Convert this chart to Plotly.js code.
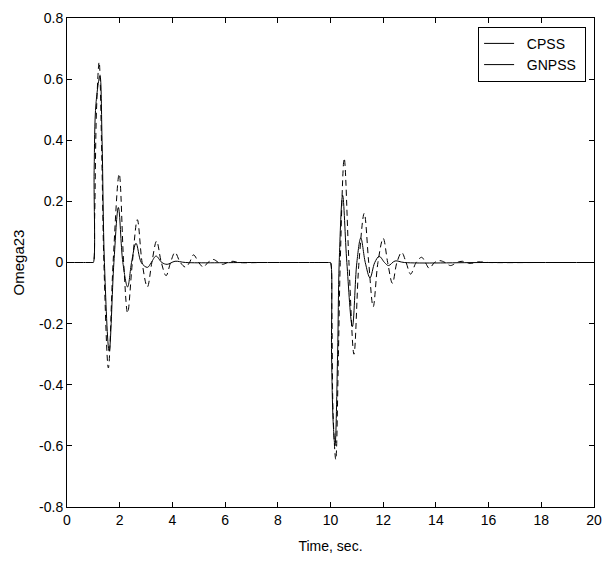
<!DOCTYPE html>
<html>
<head>
<meta charset="utf-8">
<script src="https://cdn.plot.ly/plotly-3.0.1.min.js"></script>
<style>html,body{margin:0;padding:0;background:#fff;}#chart{width:608px;height:561px;}</style>
</head>
<body>
<div id="chart"></div>
<script>
// CPSS (dashed)
const cpssTime  = [0, 0.5, 0.97, 1.0, 1.05, 1.12, 1.22, 1.32, 1.4, 1.57, 1.75, 1.98, 2.15, 2.3, 2.48, 2.67, 2.85, 3.05, 3.22, 3.40, 3.58, 3.76, 3.93, 4.1, 4.3, 4.5, 4.65, 4.8, 5.0, 5.17, 5.35, 5.55, 5.75, 5.9, 6.1, 6.3, 6.5, 7.5, 9.97, 10.0, 10.05, 10.1, 10.2, 10.3, 10.37, 10.52, 10.7, 10.89, 11.08, 11.28, 11.45, 11.62, 11.8, 12.0, 12.17, 12.35, 12.52, 12.7, 12.87, 13.04, 13.25, 13.46, 13.6, 13.75, 13.95, 14.15, 14.35, 14.55, 14.8, 15.0, 15.3, 15.6, 16.0, 18.0, 20.0];
const cpssValue = [0, 0, 0, 0, 0.15, 0.5, 0.656, 0.35, 0.0, -0.345, 0.0, 0.29, 0.0, -0.165, 0.0, 0.14, 0.0, -0.08, 0.0, 0.07, 0.0, -0.043, 0.0, 0.033, 0.0, -0.015, 0.0, 0.025, 0.0, -0.015, 0.0, 0.01, 0.0, -0.006, 0.0, 0.004, 0.0, 0, 0, 0, -0.15, -0.5, -0.645, -0.3, 0.0, 0.341, 0.0, -0.30, 0.0, 0.161, 0.0, -0.145, 0.0, 0.079, 0.0, -0.068, 0.0, 0.033, 0.0, -0.038, 0.0, 0.017, 0.0, -0.019, 0.0, 0.006, 0.0, -0.01, 0.0, 0.004, -0.003, 0.002, 0, 0, 0];

// GNPSS (solid)
const gnpssTime  = [0, 0.5, 0.97, 1.0, 1.03, 1.1, 1.25, 1.33, 1.42, 1.6, 1.78, 1.95, 2.12, 2.3, 2.45, 2.62, 2.82, 3.05, 3.2, 3.38, 3.6, 3.8, 4.1, 4.5, 7.0, 9.97, 10.0, 10.04, 10.1, 10.17, 10.27, 10.33, 10.46, 10.62, 10.83, 11.0, 11.15, 11.32, 11.5, 11.68, 11.85, 12.05, 12.2, 12.45, 12.8, 16.0, 20.0];
const gnpssValue = [0, 0, 0, 0, 0.3, 0.52, 0.61, 0.4, 0.0, -0.29, 0.0, 0.18, 0.0, -0.08, 0.0, 0.063, 0.0, -0.016, 0.0, 0.021, 0.0, -0.006, 0.004, 0, 0, 0, 0, -0.3, -0.52, -0.6, -0.3, 0.0, 0.22, 0.0, -0.21, 0.0, 0.08, 0.0, -0.05, 0.0, 0.02, 0.0, -0.01, 0.005, 0, 0, 0];

const seriesNames = ['CPSS', 'GNPSS'];
const xTicks = [0, 2, 4, 6, 8, 10, 12, 14, 16, 18, 20];
const yTicks = [-0.8, -0.6, -0.4, -0.2, 0, 0.2, 0.4, 0.6, 0.8];

const FONT = '"Liberation Sans", Arial, sans-serif';
const PAD = '\u00a0\u00a0';

const traces = [
  {x: cpssTime, y: cpssValue, mode: 'lines', line: {color: '#000', width: 1, dash: '6px,4px', shape: 'spline', smoothing: 1}, showlegend: false, hoverinfo: 'skip'},
  {x: gnpssTime, y: gnpssValue, mode: 'lines', line: {color: '#000', width: 1, shape: 'spline', smoothing: 1}, showlegend: false, hoverinfo: 'skip'},
  {x: [null], y: [null], mode: 'lines', name: PAD + seriesNames[0] + '\u00a0', line: {color: '#000', width: 1}},
  {x: [null], y: [null], mode: 'lines', name: PAD + seriesNames[1] + '\u00a0', line: {color: '#000', width: 1}}
];

const axisCommon = {
  showgrid: false, zeroline: false, showline: true, mirror: 'ticks',
  linecolor: '#000', linewidth: 1, ticks: 'inside', ticklen: 5, tickcolor: '#000', tickwidth: 1,
  tickfont: {family: FONT, size: 14, color: '#000'}
};

const layout = {
  width: 608, height: 561,
  margin: {l: 67, r: 14, t: 18, b: 54},
  paper_bgcolor: '#fff', plot_bgcolor: '#fff',
  font: {family: FONT, color: '#000'},
  xaxis: Object.assign({}, axisCommon, {range: [0, 20], tickvals: xTicks, ticktext: xTicks.map(String),
    title: {text: 'Time, sec.', font: {family: FONT, size: 14, color: '#000'}, standoff: 14}}),
  yaxis: Object.assign({}, axisCommon, {range: [-0.8, 0.8], tickvals: yTicks, ticktext: yTicks.map(v => String(Math.round(v*10)/10)),
    title: {text: 'Omega23', font: {family: FONT, size: 15, color: '#000'}, standoff: 10}}),
  legend: {x: 0.985, y: 0.982, xanchor: 'right', yanchor: 'top', bgcolor: '#fff', bordercolor: '#000', borderwidth: 1,
    font: {family: FONT, size: 14, color: '#000'}, tracegroupgap: 0},
  showlegend: true
};

Plotly.newPlot('chart', traces, layout, {staticPlot: true, displayModeBar: false});
</script>
</body>
</html>
